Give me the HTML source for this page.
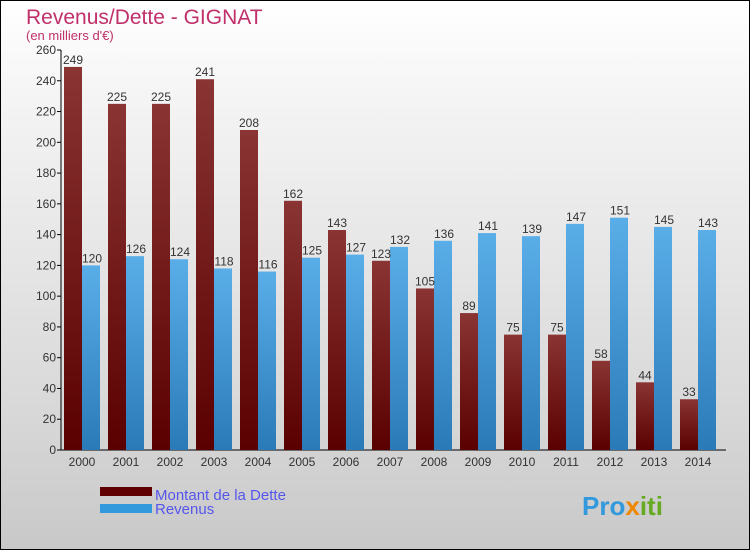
<!DOCTYPE html>
<html><head><meta charset="utf-8"><style>
body{margin:0;width:750px;height:550px;overflow:hidden;font-family:"Liberation Sans",sans-serif}
#wrap{position:absolute;left:0;top:0;width:748px;height:548px;border:1px solid #000;background:linear-gradient(#fff,#f3f3f3 20%,#d8d8d8 75%,#c8c8c8)}
</style></head><body>
<div id="wrap">
<svg id="chart" width="750" height="550" style="position:absolute;left:-1px;top:-1px">
<defs>
<linearGradient id="gd" x1="0" y1="0" x2="0" y2="1"><stop offset="0" stop-color="#8a3434"/><stop offset="1" stop-color="#5a0000"/></linearGradient>
<linearGradient id="gr" x1="0" y1="0" x2="0" y2="1"><stop offset="0" stop-color="#5aaee8"/><stop offset="1" stop-color="#2a7ab8"/></linearGradient>
</defs>
<text x="26" y="24" font-size="21" fill="#c0306a">Revenus/Dette - GIGNAT</text>
<text x="26" y="40" font-size="13" fill="#c0306a">(en milliers d'€)</text>
<g id="axes"></g><g id="bars"></g>
<rect x="100" y="487" width="52" height="9" fill="#600000"/>
<rect x="100" y="504" width="52" height="9" fill="#3399dd"/>
<text x="155" y="500" font-size="15" fill="#5555ee">Montant de la Dette</text>
<text x="155" y="514" font-size="15" fill="#5555ee">Revenus</text>
<text x="582" y="515" font-size="26" font-weight="bold" fill="#3399dd">Pro<tspan fill="#ee8800">x</tspan><tspan fill="#66aa22">iti</tspan></text>
</svg>
</div>
<script>
const years=["2000","2001","2002","2003","2004","2005","2006","2007","2008","2009","2010","2011","2012","2013","2014"];
const dette=[249,225,225,241,208,162,143,123,105,89,75,75,58,44,33];
const revenus=[120,126,124,118,116,125,127,132,136,141,139,147,151,145,143];
const yTicks=[0,20,40,60,80,100,120,140,160,180,200,220,240,260];
const NS="http://www.w3.org/2000/svg";
const y0=450,yMax=260,pxH=400;
function yS(v){return y0-v/yMax*pxH;}
function xS(i){return 64+44*i;}
function mk(tag,attrs,parent){const e=document.createElementNS(NS,tag);for(const k in attrs)e.setAttribute(k,attrs[k]);parent.appendChild(e);return e;}
const ax=document.getElementById('axes'),bg=document.getElementById('bars');
let l=mk('line',{x1:61,y1:50,x2:61,y2:450,stroke:'#000'},ax);


l=mk('line',{x1:61,y1:450,x2:726,y2:450,stroke:'#000'},ax);


yTicks.forEach(v=>{
 const t=mk('line',{x1:57,y1:yS(v),x2:61,y2:yS(v),stroke:'#000'},ax);
 
 
 const tx=mk('text',{x:56,y:yS(v)+4,'font-size':12,fill:'#333','text-anchor':'end'},ax);
 tx.textContent=v;
 
 
});
years.forEach((yr,i)=>{
 const x=xS(i);
 const tx=mk('text',{x:x+18,y:466,'font-size':12,fill:'#333','text-anchor':'middle'},ax);
 tx.textContent=yr;
 
 
 const b1=mk('rect',{x:x,y:yS(dette[i]),width:18,height:y0-yS(dette[i]),fill:'url(#gd)'},bg);
 
 
 const b2=mk('rect',{x:x+18,y:yS(revenus[i]),width:18,height:y0-yS(revenus[i]),fill:'url(#gr)'},bg);
 
 
 const l1=mk('text',{x:x+9,y:yS(dette[i])-3,'font-size':12,fill:'#333','text-anchor':'middle'},bg);
 l1.textContent=dette[i];
 
 
 const l2=mk('text',{x:x+28,y:yS(revenus[i])-3,'font-size':12,fill:'#333','text-anchor':'middle'},bg);
 l2.textContent=revenus[i];
 
 
});
</script>
</body></html>
